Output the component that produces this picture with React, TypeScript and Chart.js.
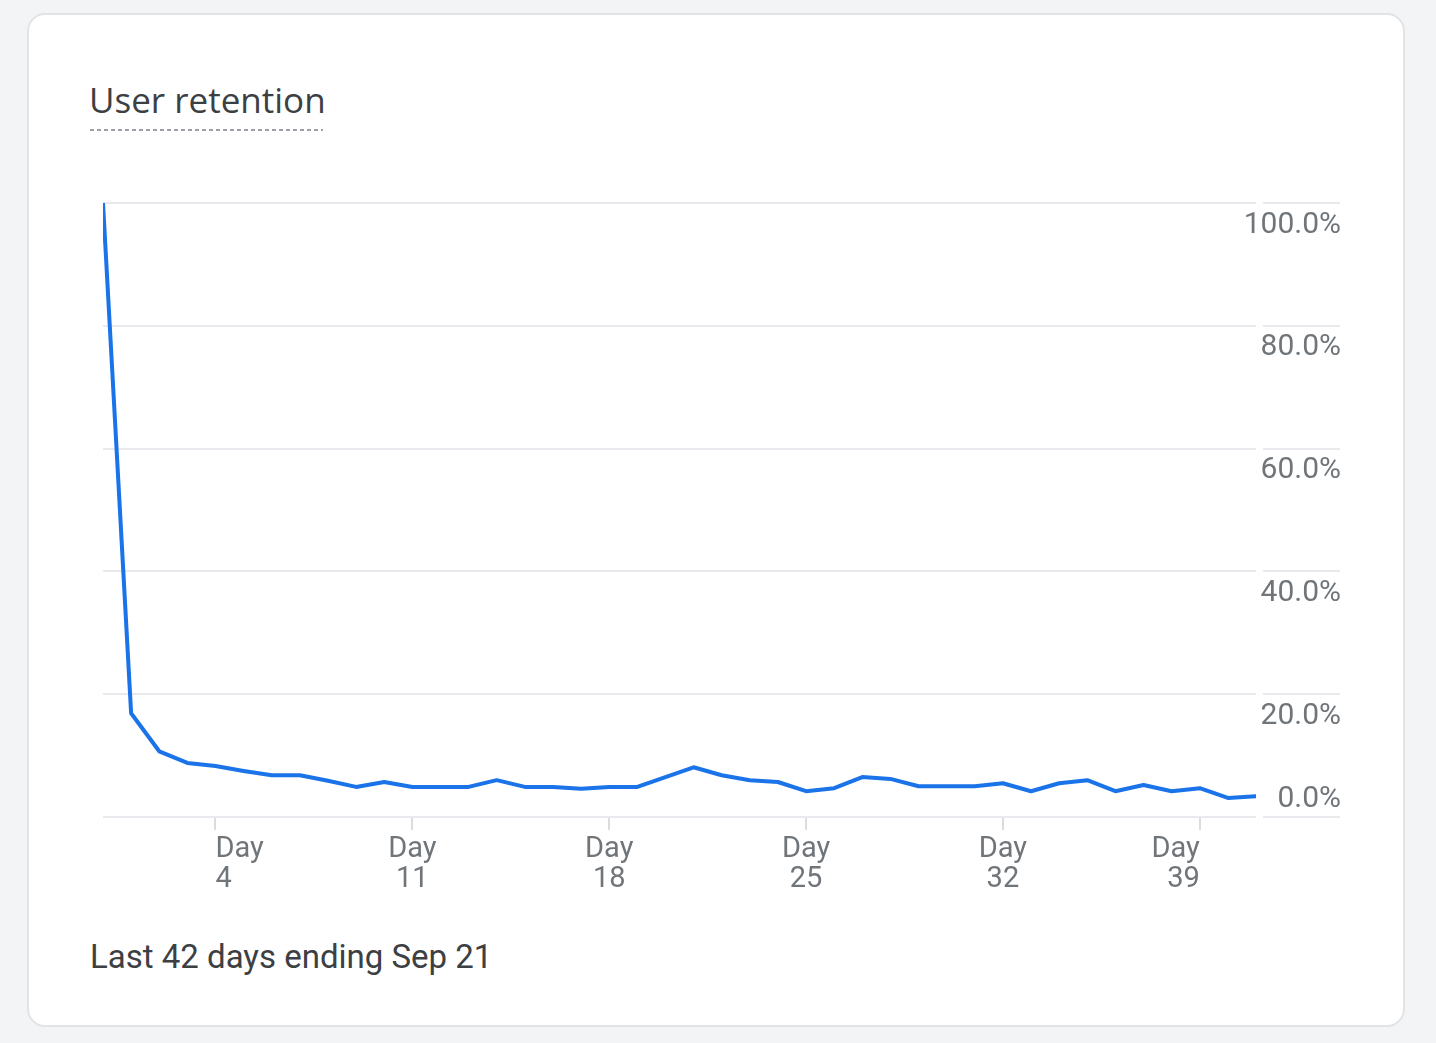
import React, { useEffect, useRef } from 'react';
import { Chart, registerables } from 'chart.js';

Chart.register(...registerables);

const days = [0, 1, 2, 3, 4, 5, 6, 7, 8, 9, 10, 11, 12, 13, 14, 15, 16, 17, 18, 19, 20, 21, 22, 23, 24, 25, 26, 27, 28, 29, 30, 31, 32, 33, 34, 35, 36, 37, 38, 39, 40, 41];
const retention = [100, 16.9, 10.7, 8.8, 8.3, 7.5, 6.8, 6.8, 5.9, 4.9, 5.7, 4.9, 4.9, 4.9, 6.0, 4.9, 4.9, 4.6, 4.9, 4.9, 6.5, 8.1, 6.8, 6.0, 5.7, 4.2, 4.7, 6.5, 6.2, 5.0, 5.0, 5.0, 5.5, 4.2, 5.5, 6.0, 4.2, 5.2, 4.2, 4.7, 3.1, 3.4];
const xTickDays = [4, 11, 18, 25, 32, 39];
const yTickValues = [0, 20, 40, 60, 80, 100];

const TITLE = 'User retention';
const FOOTER = 'Last 42 days ending Sep 21';

const yLabelPlugin = {
  id: 'yLabelsBelowGrid',
  afterDraw(chart: any) {
    const s = chart.scales.y;
    const ctx = chart.ctx;
    ctx.save();
    ctx.font = '400 30px Roboto';
    ctx.fillStyle = '#70757a';
    ctx.textAlign = 'right';
    ctx.textBaseline = 'middle';
    s.ticks.forEach((t: any) => {
      const y = s.getPixelForValue(t.value);
      const off = t.value === s.min ? -18 : 22;
      ctx.fillText(Number(t.value).toFixed(1) + '%', s.right - 1, y + off);
    });
    ctx.restore();
  },
};

export default function App() {
  const canvasRef = useRef<HTMLCanvasElement | null>(null);

  useEffect(() => {
    if (!canvasRef.current) return;
    const chart = new Chart(canvasRef.current, {
      type: 'line',
      data: {
        datasets: [
          {
            data: days.map((d, i) => ({ x: d, y: retention[i] })),
            borderColor: '#1a73e8',
            borderWidth: 4,
            pointRadius: 0,
            pointHoverRadius: 0,
            tension: 0,
            fill: false,
            borderJoinStyle: 'round',
            borderCapStyle: 'round',
          },
        ],
      },
      options: {
        animation: false,
        responsive: false,
        maintainAspectRatio: false,
        layout: { padding: { left: 13, top: 23, right: 18, bottom: 13 } },
        plugins: { legend: { display: false }, tooltip: { enabled: false }, title: { display: false } },
        scales: {
          x: {
            type: 'linear',
            min: 0,
            max: 41,
            afterBuildTicks: (s: any) => {
              s.ticks = xTickDays.map((v) => ({ value: v }));
            },
            afterFit: (s: any) => {
              s.height = 80;
            },
            border: { display: false },
            grid: {
              drawOnChartArea: false,
              drawTicks: true,
              tickLength: 13,
              color: '#dadce0',
              lineWidth: 2,
            },
            ticks: {
              autoSkip: false,
              maxRotation: 0,
              minRotation: 0,
              align: 'inner',
              padding: 5,
              color: '#70757a',
              font: { family: 'Roboto', size: 29, lineHeight: 1.03 },
              callback: (v: any) => ['Day', String(v)],
            },
          },
          y: {
            position: 'right',
            min: 0,
            max: 100,
            afterBuildTicks: (s: any) => {
              s.ticks = yTickValues.map((v) => ({ value: v }));
            },
            afterFit: (s: any) => {
              s.width = 86;
            },
            border: { display: false },
            grid: {
              color: '#e8eaed',
              lineWidth: 2,
              drawTicks: true,
              tickLength: 84,
              tickColor: '#e8eaed',
              tickBorderDash: [0, 7, 77, 0],
            },
            ticks: { display: false },
          },
        },
      } as any,
      plugins: [yLabelPlugin],
    });
    return () => chart.destroy();
  }, []);

  return (
    <div style={{ position: 'fixed', inset: 0, background: '#f3f4f6', fontFamily: 'Roboto, sans-serif' }}>
      <div
        style={{
          position: 'absolute',
          left: 27,
          top: 13,
          width: 1374,
          height: 1010,
          border: '2px solid #e2e4e8',
          borderRadius: 18,
          background: '#ffffff',
        }}
      />
      <div
        style={{
          position: 'absolute',
          left: 89,
          top: 82,
          fontFamily: '"Open Sans", Roboto, sans-serif',
          fontSize: 35,
          lineHeight: '35px',
          color: '#3c4043',
          whiteSpace: 'nowrap',
        }}
      >
        {TITLE}
      </div>
      <div
        style={{
          position: 'absolute',
          left: 90,
          top: 129,
          width: 233,
          height: 2,
          backgroundImage: 'repeating-linear-gradient(to right, #9aa0a6 0px, #9aa0a6 4px, transparent 4px, transparent 7px)',
        }}
      />
      <canvas
        ref={canvasRef}
        width={1270}
        height={730}
        style={{ position: 'absolute', left: 90, top: 180, width: 1270, height: 730 }}
      />
      <div
        style={{
          position: 'absolute',
          left: 90,
          top: 940,
          fontSize: 33,
          lineHeight: '33px',
          color: '#3c4043',
          whiteSpace: 'nowrap',
        }}
      >
        {FOOTER}
      </div>
    </div>
  );
}
